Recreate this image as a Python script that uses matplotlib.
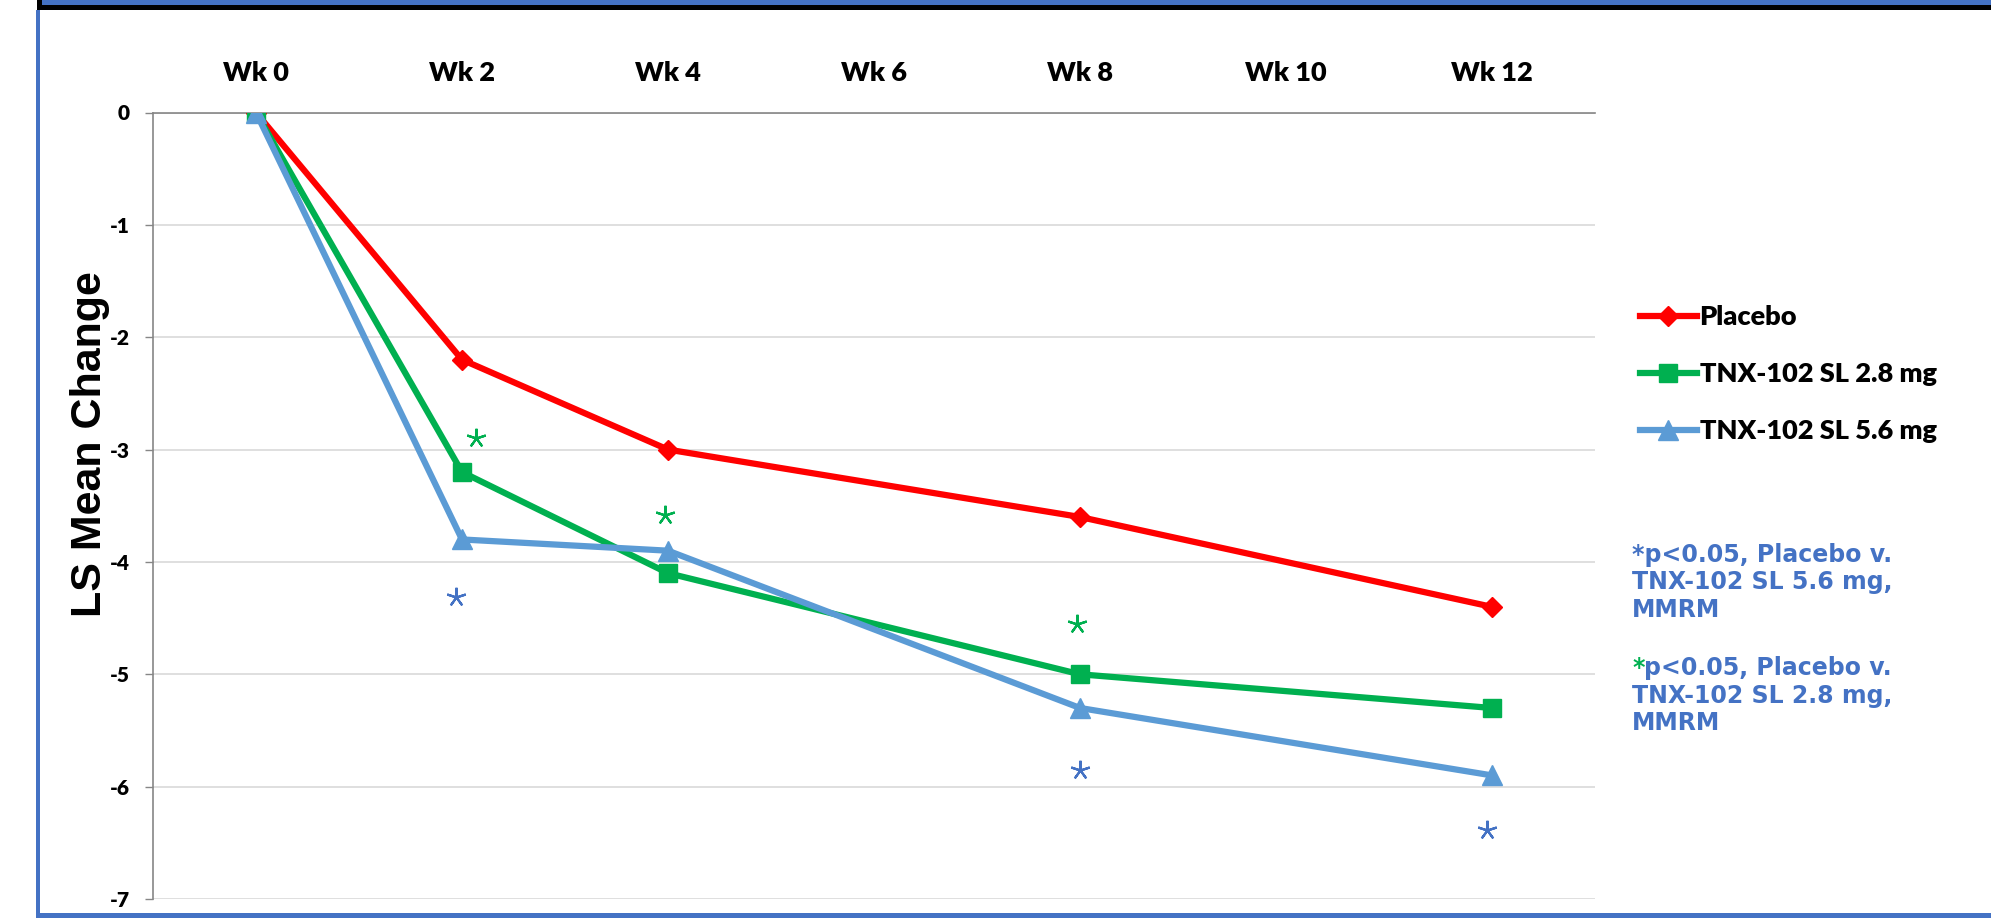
import matplotlib
matplotlib.use("Agg")
import matplotlib.pyplot as plt
from matplotlib.patches import Rectangle

# Data
weeks = ["Wk 0", "Wk 2", "Wk 4", "Wk 6", "Wk 8", "Wk 10", "Wk 12"]
visit_idx = [0, 1, 2, 4, 6]
placebo = [0, -2.2, -3.0, -3.6, -4.4]
tnx_28 = [0, -3.2, -4.1, -5.0, -5.3]
tnx_56 = [0, -3.8, -3.9, -5.3, -5.9]
series_labels = ["Placebo", "TNX-102 SL 2.8 mg", "TNX-102 SL 5.6 mg"]
yticks = [0, -1, -2, -3, -4, -5, -6, -7]

# significance asterisks (category position, value)
star28_x = [1.07, 1.985, 3.985]
star28_y = [-2.90, -3.58, -4.555]
star56_x = [0.97, 4.0, 5.976]
star56_y = [-4.31, -5.85, -6.39]

note56 = ["*p<0.05, Placebo v.", "TNX-102 SL 5.6 mg,", "MMRM"]
note28 = ["p<0.05, Placebo v.", "TNX-102 SL 2.8 mg,", "MMRM"]

RED = "#FF0000"
GREEN = "#00B050"
LBLUE = "#5B9BD5"
DBLUE = "#4472C4"
GREY = "#868686"
LABEL_WEIGHT = "heavy"

W, H = 1991, 918
fig = plt.figure(figsize=(W / 100, H / 100), dpi=100)


def fx(px):
    return px / W


def fy(py):
    return 1 - py / H


# frame pieces
fig.add_artist(Rectangle((fx(37), fy(10)), 1, 10 / H, transform=fig.transFigure,
                         facecolor="black", edgecolor="none"))
fig.add_artist(Rectangle((fx(42), fy(5)), 1, 5 / H, transform=fig.transFigure,
                         facecolor=DBLUE, edgecolor="none"))
fig.add_artist(Rectangle((fx(36), 0), 4 / W, fy(10), transform=fig.transFigure,
                         facecolor=DBLUE, edgecolor="none"))
fig.add_artist(Rectangle((fx(36), 0), 1, 5 / H, transform=fig.transFigure,
                         facecolor=DBLUE, edgecolor="none"))

ax = fig.add_axes([fx(153), fy(899), (1595 - 153) / W, (899 - 112.5) / H])

lw = 4.5
l1, = ax.plot(visit_idx, placebo, color=RED, lw=lw, marker="D", ms=10,
              mec=RED, label=series_labels[0], zorder=3)
l2, = ax.plot(visit_idx, tnx_28, color=GREEN, lw=lw, marker="s", ms=13,
              mec=GREEN, label=series_labels[1], zorder=4)
l3, = ax.plot(visit_idx, tnx_56, color=LBLUE, lw=lw, marker="^", ms=15,
              mec=LBLUE, label=series_labels[2], zorder=5)

ax.plot(star28_x, star28_y, ls="none", marker=(5, 2, 0), ms=14, mew=1.6,
        color=GREEN, zorder=6)
ax.plot(star56_x, star56_y, ls="none", marker=(5, 2, 0), ms=14, mew=1.6,
        color=DBLUE, zorder=6)

ax.set_xlim(-0.5, 6.5)
ax.set_ylim(-7, 0)
ax.set_xticks(range(len(weeks)))
ax.set_xticklabels(weeks, fontfamily="Lato", fontweight=LABEL_WEIGHT,
                   fontsize=19.5)
ax.xaxis.tick_top()
ax.tick_params(axis="x", length=0, pad=20)
ax.set_yticks(yticks)
ax.set_yticklabels([str(v) for v in yticks], fontfamily="Lato",
                   fontweight=LABEL_WEIGHT, fontsize=15)
ax.tick_params(axis="y", length=5.8, width=1, color=GREY, pad=11)
ax.yaxis.grid(True, color="#D9D9D9", lw=1.2)
ax.set_axisbelow(True)
for s in ["right", "bottom"]:
    ax.spines[s].set_visible(False)
ax.spines["top"].set_color(GREY)
ax.spines["left"].set_color(GREY)
ax.spines["top"].set_linewidth(1.2)
ax.spines["left"].set_linewidth(1.2)

fig.text(fx(90), fy(444), "LS Mean Change", rotation=90, ha="center",
         va="center", fontfamily="Liberation Sans", fontweight="bold",
         fontsize=31)

fig.legend(handles=[l1, l2, l3], loc="upper left",
           bbox_to_anchor=(fx(1640), fy(305)), frameon=False, borderpad=0,
           borderaxespad=0, handlelength=2.1, handletextpad=0.1,
           labelspacing=1.22, prop={"family": "Lato", "weight": LABEL_WEIGHT,
                                    "size": 19.5})

note_font = dict(fontfamily="DejaVu Sans", fontweight="bold", fontsize=17,
                 color=DBLUE, va="baseline", ha="left")
x0 = 1632
for i, line in enumerate(note56):
    fig.text(fx(x0), fy(562 + 27.5 * i), line, **note_font)
star = fig.text(fx(x0), fy(675), "*", **{**note_font, "color": GREEN})
ax.annotate(note28[0], xy=(1, 0), xycoords=star, ha="left", va="bottom",
            fontfamily="DejaVu Sans", fontweight="bold", fontsize=17,
            color=DBLUE, annotation_clip=False)
for i, line in enumerate(note28[1:], start=1):
    fig.text(fx(x0), fy(675 + 27.5 * i), line, **note_font)

fig.savefig("out.png", dpi=100)
